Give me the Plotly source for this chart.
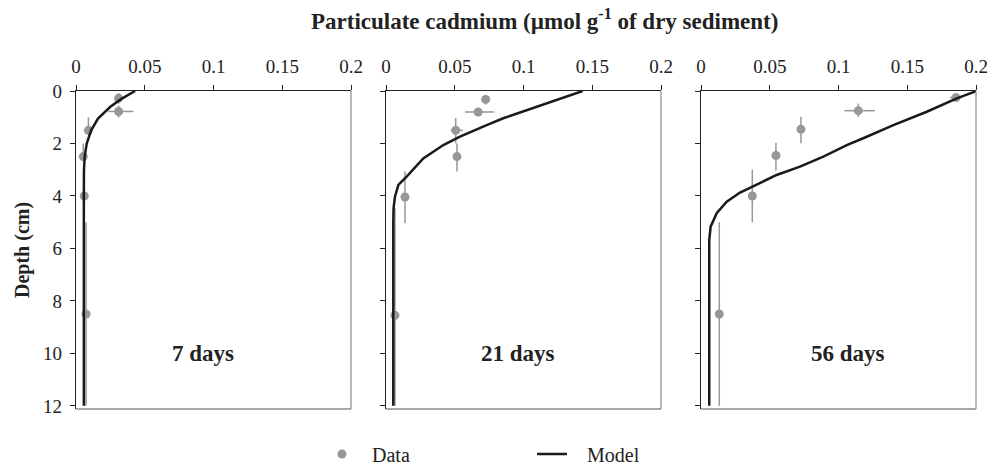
import plotly.graph_objects as go

# ---------------- data ----------------
panel_labels = ["7 days", "21 days", "56 days"]
x_ticks = [0, 0.05, 0.1, 0.15, 0.2]
y_ticks = [0, 2, 4, 6, 8, 10, 12]

# measured data (depth in cm, particulate Cd in umol/g)
d7_depth = [0.28, 0.78, 1.5, 2.5, 4.0, 8.5]
d7_conc = [0.031, 0.031, 0.009, 0.0053, 0.006, 0.0073]
d7_ex_plus = [0.0, 0.0108, 0.0, 0.0, 0.0, 0.0]
d7_ex_minus = [0.0, 0.0075, 0.0, 0.0, 0.0, 0.0]
d7_ey_plus = [0.2, 0.23, 0.1, 0.15, 0.0, 3.5]
d7_ey_minus = [0.2, 0.23, 0.5, 0.5, 0.0, 3.5]

d21_depth = [0.32, 0.8, 1.5, 2.5, 4.04, 8.55]
d21_conc = [0.0725, 0.067, 0.0507, 0.0516, 0.0138, 0.0065]
d21_ex_plus = [0.0, 0.0115, 0.0053, 0.0, 0.0, 0.0]
d21_ex_minus = [0.0, 0.0095, 0.0037, 0.0, 0.0, 0.0]
d21_ey_plus = [0.2, 0.15, 0.49, 0.57, 1.0, 3.45]
d21_ey_minus = [0.15, 0.15, 0.47, 0.5, 0.97, 4.1]

d56_depth = [0.25, 0.75, 1.46, 2.46, 4.0, 8.5]
d56_conc = [0.1855, 0.1144, 0.0727, 0.0545, 0.0373, 0.0133]
d56_ex_plus = [0.0045, 0.0121, 0.0, 0.0, 0.0, 0.0]
d56_ex_minus = [0.0045, 0.0102, 0.0, 0.0, 0.0, 0.0]
d56_ey_plus = [0.1, 0.24, 0.53, 0.57, 1.0, 3.5]
d56_ey_minus = [0.1, 0.27, 0.48, 0.49, 1.0, 3.5]

# model profiles
m7_depth = [0, 0.3, 0.6, 1.05, 1.5, 2.0, 2.5, 3.0, 4, 6, 8, 10, 12]
m7_conc = [0.043, 0.033, 0.025, 0.016, 0.011, 0.0078, 0.0063, 0.0058, 0.0057,
           0.0057, 0.0057, 0.0057, 0.0057]

m21_depth = [0, 0.41, 0.72, 1.04, 1.3, 1.74, 2.06, 2.57, 3.26, 3.58, 4.03, 4.47, 5, 12]
m21_conc = [0.143, 0.1205, 0.1023, 0.0853, 0.0732, 0.0538, 0.0417, 0.0271, 0.015,
            0.009, 0.0065, 0.0055, 0.0053, 0.0053]

m56_depth = [0, 0.28, 0.79, 1.3, 1.8, 2.06, 2.5, 2.88, 3.2, 3.58, 3.87, 4.22, 4.66,
             5.17, 5.68, 12]
m56_conc = [0.2005, 0.186, 0.1642, 0.1399, 0.118, 0.106, 0.089, 0.072, 0.055,
            0.0405, 0.0284, 0.0187, 0.0114, 0.007, 0.006, 0.006]

# ---------------- styling ----------------
FONT = "Liberation Serif"
GRAY = "#979797"
BLACK = "#1a1a1a"

panels = [
    (d7_depth, d7_conc, d7_ex_plus, d7_ex_minus, d7_ey_plus, d7_ey_minus, m7_depth, m7_conc),
    (d21_depth, d21_conc, d21_ex_plus, d21_ex_minus, d21_ey_plus, d21_ey_minus, m21_depth, m21_conc),
    (d56_depth, d56_conc, d56_ex_plus, d56_ex_minus, d56_ey_plus, d56_ey_minus, m56_depth, m56_conc),
]
domains = [[0.0, 275 / 900], [310 / 900, 585 / 900], [625 / 900, 1.0]]
label_pos = [0.46, 0.48, 0.535]

fig = go.Figure()
for i, (dd, dc, exp, exm, eyp, eym, md, mc) in enumerate(panels):
    suf = "" if i == 0 else str(i + 1)
    fig.add_trace(go.Scatter(
        x=dc, y=dd, mode="markers", name="\u00a0\u00a0Data", showlegend=(i == 0),
        legendrank=1,
        marker=dict(color=GRAY, size=9),
        error_x=dict(type="data", array=exp, arrayminus=exm, color=GRAY,
                     thickness=1.5, width=0),
        error_y=dict(type="data", array=eyp, arrayminus=eym, color=GRAY,
                     thickness=1.5, width=0),
        xaxis="x" + suf, yaxis="y" + suf,
    ))
    fig.add_trace(go.Scatter(
        x=mc, y=md, mode="lines", name="\u00a0\u00a0\u00a0Model", showlegend=(i == 0),
        legendrank=2,
        line=dict(color=BLACK, width=2.5),
        xaxis="x" + suf, yaxis="y" + suf,
    ))

layout = dict(
    width=991, height=466,
    margin=dict(l=76, r=15, t=91, b=57, autoexpand=False),
    paper_bgcolor="white", plot_bgcolor="white",
    font=dict(family=FONT, size=19, color="#222"),
    showlegend=True,
    legend=dict(orientation="h", xref="container", yref="container",
                x=322 / 991, y=1 - 454 / 466, xanchor="left", yanchor="middle",
                entrywidth=165, entrywidthmode="pixels",
                font=dict(family=FONT, size=20, color="#222"),
                bgcolor="rgba(0,0,0,0)"),
)
shapes = []
annotations = []
for i in range(3):
    suf = "" if i == 0 else str(i + 1)
    layout["xaxis" + suf] = dict(
        domain=domains[i], range=[0, 0.2], side="top", anchor="y" + suf,
        tickvals=x_ticks, ticktext=[str(v) for v in x_ticks],
        ticks="outside", ticklen=5, tickcolor="#222", tickwidth=1,
        showline=True, linecolor="#222", linewidth=1.2, automargin=False,
        showgrid=False, zeroline=False, ticklabelstandoff=4,
        tickfont=dict(family=FONT, size=19, color="#222"),
    )
    layout["yaxis" + suf] = dict(
        domain=[0, 1], range=[12.12, 0], anchor="x" + suf,
        tickvals=y_ticks, showticklabels=(i == 0),
        ticks="outside", ticklen=5, tickcolor="#222", tickwidth=1,
        showline=True, linecolor="#222", linewidth=1.2, automargin=False,
        showgrid=False, zeroline=False, ticklabelstandoff=4,
        tickfont=dict(family=FONT, size=19, color="#222"),
    )
    # bottom and right frame lines (gray)
    shapes.append(dict(type="line", xref="x" + suf + " domain", yref="y" + suf + " domain",
                       x0=0, x1=1, y0=0, y1=0, line=dict(color="#555", width=1.2)))
    shapes.append(dict(type="line", xref="x" + suf + " domain", yref="y" + suf + " domain",
                       x0=1, x1=1, y0=0, y1=1, line=dict(color="#8a8a8a", width=1.2)))
    annotations.append(dict(text="<b>%s</b>" % panel_labels[i], xref="x" + suf + " domain",
                            yref="y" + suf, x=label_pos[i], y=10.0, showarrow=False,
                            xanchor="center", yanchor="middle",
                            font=dict(family=FONT, size=23, color="#222")))

annotations.append(dict(text="<b>Particulate cadmium (µmol g<sup>-1</sup> of dry sediment)</b>",
                        xref="paper", yref="paper", x=(544 - 76) / 900, y=1 + 71 / 318,
                        xanchor="center", yanchor="middle", showarrow=False,
                        font=dict(family=FONT, size=23, color="#222")))
annotations.append(dict(text="<b>Depth (cm)</b>", xref="paper", yref="paper",
                        x=-(76 - 22) / 900, y=0.5, textangle=-90,
                        xanchor="center", yanchor="middle", showarrow=False,
                        font=dict(family=FONT, size=20, color="#222")))

layout["shapes"] = shapes
layout["annotations"] = annotations
fig.update_layout(**layout)
fig.write_html("out.html",
               config={"displayModeBar": False},
               post_script="document.body.style.margin='0px';"
                           "document.body.style.overflow='hidden';")
